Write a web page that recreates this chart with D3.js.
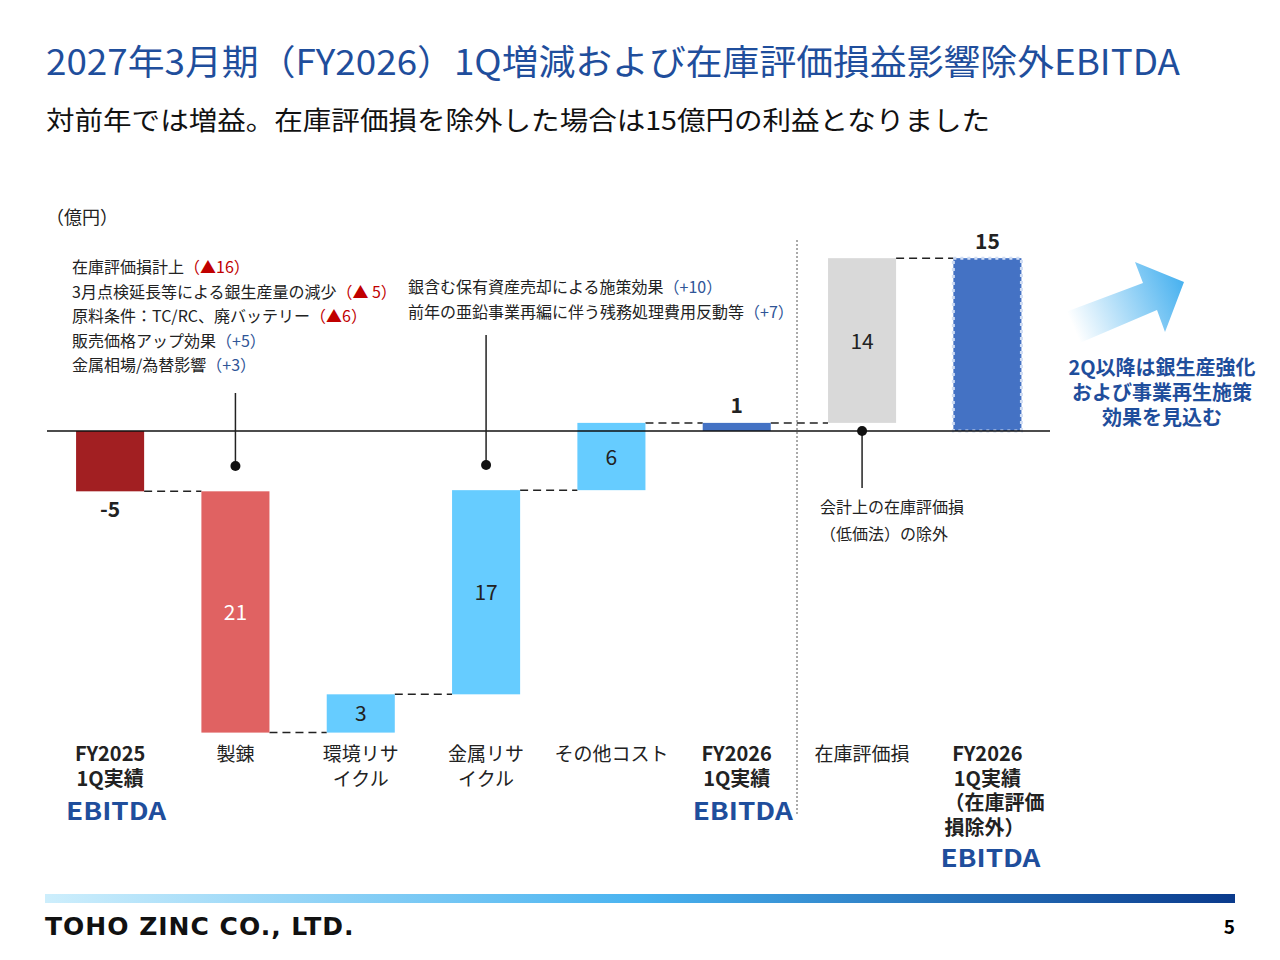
<!DOCTYPE html>
<html><head><meta charset="utf-8">
<script src="https://cdn.jsdelivr.net/npm/d3@7"></script>
<style>
body{margin:0;background:#fff;font-family:"Noto Sans CJK JP","Noto Sans",sans-serif;}
</style></head>
<body><svg id="c" width="1280" height="960"></svg>
<script>
// data
const categories = ['FY2025 1Q', '製錬', '環境リサイクル', '金属リサイクル', 'その他コスト', 'FY2026 1Q', '在庫評価損', 'FY2026 1Q除外'];
const values = [-5.2, -20.8, 3.3, 17.6, 5.8, 0.7, 14.2, 14.9];
const kinds = ['total', 'step', 'step', 'step', 'step', 'total', 'step', 'total'];
const valueLabels = ['-5', '21', '3', '17', '6', '1', '14', '15'];
const colors = ['#a21f22', '#e06262', '#66ccff', '#66ccff', '#66ccff', '#4472c4', '#d9d9d9', '#4472c4'];
const catLabels = [
  ['FY2025', '1Q実績'], ['製錬'], ['環境リサ', 'イクル'], ['金属リサ', 'イクル'],
  ['その他コスト'], ['FY2026', '1Q実績'], ['在庫評価損'], ['FY2026', '1Q実績', '（在庫評価', '損除外）']
];

const svg = d3.select('#c');
const navy = '#1f4e9c';

const x = d3.scaleBand().domain(categories).range([47.5, 1050]).paddingInner(0.457).paddingOuter(0.228);
const y = d3.scaleLinear().domain([0, 1]).range([431, 419.4]);

// compute waterfall segments
let run = 0;
const bars = values.map((v, i) => {
  let y0, y1;
  if (kinds[i] === 'total') { y0 = 0; y1 = v; run = v; }
  else { y0 = run; y1 = run + v; run = y1; }
  return { cat: categories[i], y0, y1, i };
});

// titles
svg.append('text').attr('x', 46).attr('y', 75).attr('fill', navy).attr('font-size', 35)
  .attr('textLength', 1134).attr('lengthAdjust', 'spacingAndGlyphs')
  .text('2027年3月期（FY2026）1Q増減および在庫評価損益影響除外EBITDA');
svg.append('text').attr('x', 46).attr('y', 130).attr('fill', '#111').attr('font-size', 26)
  .attr('textLength', 944).attr('lengthAdjust', 'spacingAndGlyphs')
  .text('対前年では増益。在庫評価損を除外した場合は15億円の利益となりました');
svg.append('text').attr('x', 46).attr('y', 224).attr('font-size', 18).attr('fill', '#222').text('（億円）');

// separator
svg.append('line').attr('x1', 797).attr('x2', 797).attr('y1', 240).attr('y2', 815)
  .attr('stroke', '#555').attr('stroke-dasharray', '2,2');

// connectors
bars.slice(0, -1).forEach((b, i) => {
  const lvl = b.y1;
  svg.append('line').attr('x1', x(b.cat) + x.bandwidth()).attr('x2', x(bars[i + 1].cat))
    .attr('y1', y(lvl)).attr('y2', y(lvl)).attr('stroke', '#222').attr('stroke-width', 1.5)
    .attr('stroke-dasharray', '8,5');
});

// bars
svg.append('g').selectAll('rect').data(bars).join('rect')
  .attr('x', d => x(d.cat)).attr('width', x.bandwidth())
  .attr('y', d => y(Math.max(d.y0, d.y1)))
  .attr('height', d => Math.abs(y(d.y0) - y(d.y1)))
  .attr('fill', d => colors[d.i])
  .attr('stroke', d => d.i === 7 ? '#cfdcf3' : 'none')
  .attr('stroke-width', 3).attr('stroke-dasharray', '3,4');

// zero axis
svg.append('line').attr('x1', 47).attr('x2', 1050).attr('y1', y(0)).attr('y2', y(0)).attr('stroke', '#111').attr('stroke-width', 1.5);

// value labels
bars.forEach((b, i) => {
  const cx = x(b.cat) + x.bandwidth() / 2;
  let ty, fill = '#222', bold = false;
  if (i === 0) { ty = y(b.y1) + 26; bold = true; }
  else if (i === 5) { ty = y(b.y1) - 10; bold = true; }
  else if (i === 7) { ty = y(b.y1) - 9; bold = true; }
  else { ty = (y(b.y0) + y(b.y1)) / 2 + 8; if (i === 1) fill = '#fff'; }
  svg.append('text').attr('x', cx).attr('y', ty).attr('text-anchor', 'middle')
    .attr('font-size', 21).attr('font-weight', bold ? 700 : 400).attr('fill', fill).text(valueLabels[i]);
});

// category labels
catLabels.forEach((lines, i) => {
  const cx = x(categories[i]) + x.bandwidth() / 2;
  const isTotal = kinds[i] === 'total';
  lines.forEach((t, j) => {
    svg.append('text').attr('x', i === 7 && j > 1 ? cx - 43 : cx).attr('y', 761 + j * 24.5)
      .attr('text-anchor', i === 7 && j > 1 ? 'start' : 'middle')
      .attr('font-size', isTotal ? 20 : 19).attr('font-weight', isTotal ? 700 : 400)
      .attr('fill', '#222').text(t);
  });
  if (isTotal) {
    svg.append('text').attr('x', cx + (i === 7 ? 3 : 6)).attr('y', i === 7 ? 867 : 820).attr('text-anchor', 'middle')
      .attr('font-size', 24).attr('font-weight', 700).attr('fill', navy)
      .attr('textLength', 100).attr('lengthAdjust', 'spacingAndGlyphs').text('EBITDA');
  }
});

// annotations
const note = (px, y1, y2) => {
  svg.append('line').attr('x1', px).attr('x2', px).attr('y1', y1).attr('y2', y2).attr('stroke', '#222').attr('stroke-width', 1.5);
  svg.append('circle').attr('cx', px).attr('cy', y2).attr('r', 5).attr('fill', '#111');
};
const cxOf = i => x(categories[i]) + x.bandwidth() / 2;
note(cxOf(1), 393, 466);
note(cxOf(3), 335, 465);
svg.append('line').attr('x1', cxOf(6)).attr('x2', cxOf(6)).attr('y1', y(0)).attr('y2', 488).attr('stroke', '#222').attr('stroke-width', 1.5);
svg.append('circle').attr('cx', cxOf(6)).attr('cy', y(0)).attr('r', 5).attr('fill', '#111');

const noteText = (tx, ty, parts) => {
  const t = svg.append('text').attr('x', tx).attr('y', ty).attr('font-size', 16).attr('fill', '#222');
  parts.forEach(([s, c]) => t.append('tspan').attr('fill', c).text(s));
};
const red = '#c00000', blu = '#2f5597';
[
  [['在庫評価損計上', '#222'], ['（▲16）', red]],
  [['3月点検延長等による銀生産量の減少', '#222'], ['（▲ 5）', red]],
  [['原料条件：TC/RC、廃バッテリー', '#222'], ['（▲6）', red]],
  [['販売価格アップ効果', '#222'], ['（+5）', blu]],
  [['金属相場/為替影響', '#222'], ['（+3）', blu]]
].forEach((p, j) => noteText(72, 273 + j * 24.5, p));
noteText(408, 293, [['銀含む保有資産売却による施策効果', '#222'], ['（+10）', blu]]);
noteText(408, 318, [['前年の亜鉛事業再編に伴う残務処理費用反動等', '#222'], ['（+7）', blu]]);
noteText(820, 513, [['会計上の在庫評価損', '#222']]);
noteText(820, 540, [['（低価法）の除外', '#222']]);

// arrow
const defs = svg.append('defs');
const ag = defs.append('linearGradient').attr('id', 'ag').attr('x1', '0').attr('x2', '1').attr('y1', '0.5').attr('y2', '0.2');
ag.append('stop').attr('offset', 0).attr('stop-color', '#fff');
ag.append('stop').attr('offset', 1).attr('stop-color', '#45b0ef');
svg.append('path').attr('d', 'M1063,313 L1143,283 L1135,262 L1184,282 L1165,332 L1157,310 L1075,345 Z').attr('fill', 'url(#ag)');
['2Q以降は銀生産強化', 'および事業再生施策', '効果を見込む'].forEach((t, j) =>
  svg.append('text').attr('x', 1162).attr('y', 375 + j * 25).attr('text-anchor', 'middle')
    .attr('font-size', 20).attr('font-weight', 700).attr('fill', navy).text(t));

// footer
const fg = defs.append('linearGradient').attr('id', 'fg');
fg.append('stop').attr('offset', 0).attr('stop-color', '#cdeefc');
fg.append('stop').attr('offset', 0.5).attr('stop-color', '#49b3f0');
fg.append('stop').attr('offset', 1).attr('stop-color', '#0a3a8c');
svg.append('rect').attr('x', 45).attr('y', 894).attr('width', 1190).attr('height', 9).attr('fill', 'url(#fg)');
svg.append('text').attr('x', 45).attr('y', 935).attr('font-family', '"DejaVu Sans", sans-serif').attr('font-size', 25)
  .attr('font-weight', 700).attr('letter-spacing', 1).attr('fill', '#111').text('TOHO ZINC CO., LTD.');
svg.append('text').attr('x', 1235).attr('y', 934).attr('text-anchor', 'end').attr('font-size', 19).attr('font-weight', 700).text('5');
</script></body></html>
